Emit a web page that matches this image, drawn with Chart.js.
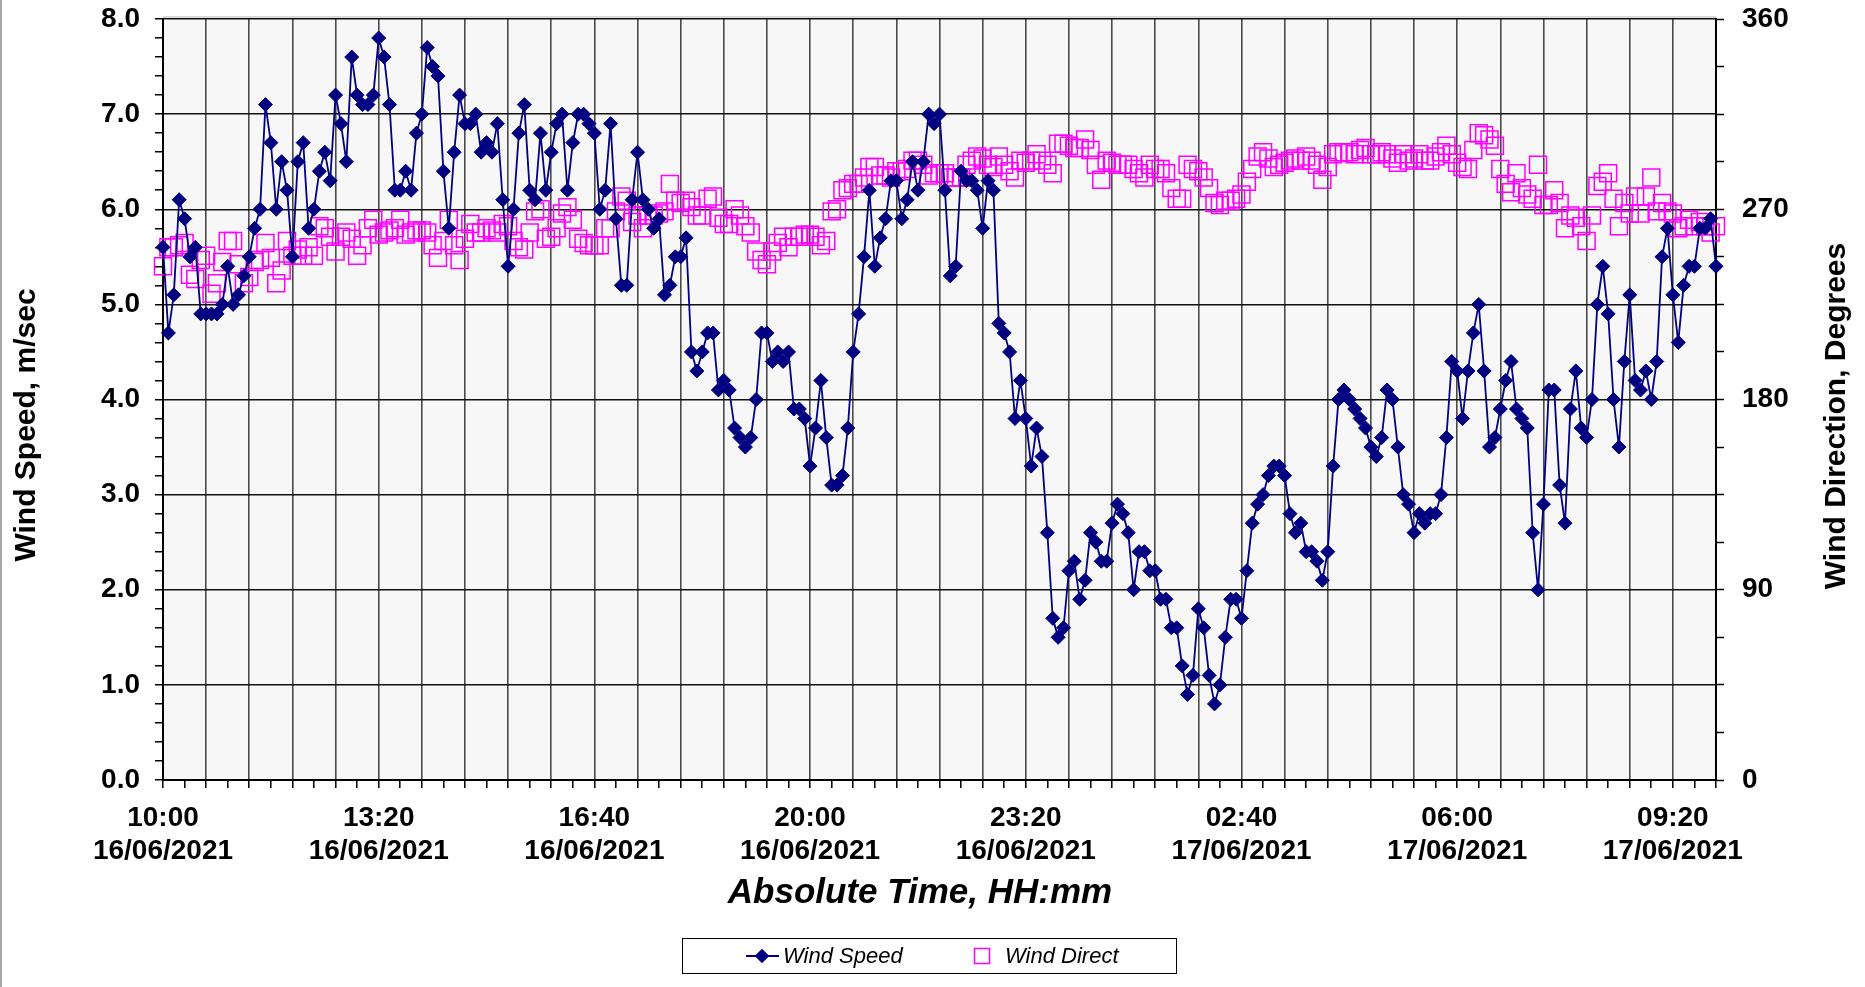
<!DOCTYPE html>
<html>
<head>
<meta charset="utf-8">
<title>Wind Speed / Wind Direction</title>
<script src="https://cdn.jsdelivr.net/npm/chart.js@4.4.1/dist/chart.umd.min.js"></script>
<style>
  html, body { margin: 0; padding: 0; background: #fff; }
  canvas { display: block; }
</style>
</head>
<body>
<canvas id="windChart" width="1865" height="987"></canvas>
<script>
// ========================================
// DATA (5 minute samples, 16/06/2021 10:00 -> 17/06/2021 10:00)
// ========================================
const startMinutes = 10 * 60;
const stepMinutes = 5;
const startDay = 16;

// Wind Speed, m/sec
const windSpeed = [
  5.6, 4.7, 5.1, 6.1, 5.9, 5.5, 5.6, 4.9, 4.9, 4.9,
  4.9, 5.0, 5.4, 5.0, 5.1, 5.3, 5.5, 5.8, 6.0, 7.1,
  6.7, 6.0, 6.5, 6.2, 5.5, 6.5, 6.7, 5.8, 6.0, 6.4,
  6.6, 6.3, 7.2, 6.9, 6.5, 7.6, 7.2, 7.1, 7.1, 7.2,
  7.8, 7.6, 7.1, 6.2, 6.2, 6.4, 6.2, 6.8, 7.0, 7.7,
  7.5, 7.4, 6.4, 5.8, 6.6, 7.2, 6.9, 6.9, 7.0, 6.6,
  6.7, 6.6, 6.9, 6.1, 5.4, 6.0, 6.8, 7.1, 6.2, 6.1,
  6.8, 6.2, 6.6, 6.9, 7.0, 6.2, 6.7, 7.0, 7.0, 6.9,
  6.8, 6.0, 6.2, 6.9, 5.9, 5.2, 5.2, 6.1, 6.6, 6.1,
  6.0, 5.8, 5.9, 5.1, 5.2, 5.5, 5.5, 5.7, 4.5, 4.3,
  4.5, 4.7, 4.7, 4.1, 4.2, 4.1, 3.7, 3.6, 3.5, 3.6,
  4.0, 4.7, 4.7, 4.4, 4.5, 4.4, 4.5, 3.9, 3.9, 3.8,
  3.3, 3.7, 4.2, 3.6, 3.1, 3.1, 3.2, 3.7, 4.5, 4.9,
  5.5, 6.2, 5.4, 5.7, 5.9, 6.3, 6.3, 5.9, 6.1, 6.5,
  6.2, 6.5, 7.0, 6.9, 7.0, 6.2, 5.3, 5.4, 6.4, 6.3,
  6.3, 6.2, 5.8, 6.3, 6.2, 4.8, 4.7, 4.5, 3.8, 4.2,
  3.8, 3.3, 3.7, 3.4, 2.6, 1.7, 1.5, 1.6, 2.2, 2.3,
  1.9, 2.1, 2.6, 2.5, 2.3, 2.3, 2.7, 2.9, 2.8, 2.6,
  2.0, 2.4, 2.4, 2.2, 2.2, 1.9, 1.9, 1.6, 1.6, 1.2,
  0.9, 1.1, 1.8, 1.6, 1.1, 0.8, 1.0, 1.5, 1.9, 1.9,
  1.7, 2.2, 2.7, 2.9, 3.0, 3.2, 3.3, 3.3, 3.2, 2.8,
  2.6, 2.7, 2.4, 2.4, 2.3, 2.1, 2.4, 3.3, 4.0, 4.1,
  4.0, 3.9, 3.8, 3.7, 3.5, 3.4, 3.6, 4.1, 4.0, 3.5,
  3.0, 2.9, 2.6, 2.8, 2.7, 2.8, 2.8, 3.0, 3.6, 4.4,
  4.3, 3.8, 4.3, 4.7, 5.0, 4.3, 3.5, 3.6, 3.9, 4.2,
  4.4, 3.9, 3.8, 3.7, 2.6, 2.0, 2.9, 4.1, 4.1, 3.1,
  2.7, 3.9, 4.3, 3.7, 3.6, 4.0, 5.0, 5.4, 4.9, 4.0,
  3.5, 4.4, 5.1, 4.2, 4.1, 4.3, 4.0, 4.4, 5.5, 5.8,
  5.1, 4.6, 5.2, 5.4, 5.4, 5.8, 5.8, 5.9, 5.4
];

// Wind Direction, degrees
const windDirection = [
  243, 252, 252, 253, 254, 239, 237, 246, 248, 230,
  235, 245, 255, 255, 244, 235, 238, 245, 246, 254,
  247, 235, 241, 255, 248, 251, 248, 252, 248, 262,
  261, 257, 250, 257, 259, 256, 248, 253, 261, 265,
  258, 259, 260, 261, 265, 258, 259, 260, 260, 259,
  253, 247, 255, 265, 253, 246, 256, 263, 259, 259,
  261, 260, 259, 263, 262, 255, 252, 251, 259, 269,
  270, 256, 257, 261, 268, 271, 265, 256, 254, 253,
  253, 253, 261, 261, 269, 276, 274, 264, 267, 261,
  267, 267, 268, 269, 282, 274, 273, 274, 271, 267,
  267, 275, 276, 266, 263, 263, 270, 267, 262, 259,
  250, 246, 244, 250, 254, 257, 252, 257, 257, 258,
  258, 257, 253, 255, 269, 270, 279, 280, 282, 282,
  285, 290, 290, 286, 286, 285, 288, 288, 289, 293,
  293, 291, 286, 287, 287, 287, 285, 285, 285, 291,
  293, 295, 294, 291, 290, 295, 291, 288, 285, 293,
  292, 293, 296, 293, 291, 287, 301, 301, 300, 299,
  299, 303, 298, 291, 284, 293, 292, 291, 291, 291,
  289, 287, 285, 291, 289, 289, 287, 280, 275, 275,
  291, 289, 288, 285, 280, 273, 272, 274, 274, 275,
  277, 283, 289, 295, 297, 294, 290, 291, 292, 293,
  294, 293, 295, 293, 291, 284, 290, 296, 297, 297,
  297, 296, 298, 299, 296, 296, 297, 296, 294, 292,
  296, 293, 294, 296, 293, 293, 295, 297, 300, 296,
  292, 290, 289, 298, 306, 305, 303, 300, 289, 282,
  278, 287, 280, 277, 275, 291, 272, 272, 279, 273,
  261, 267, 266, 262, 255, 267, 281, 283, 287, 275,
  262, 273, 268, 276, 268, 276, 285, 269, 273, 269,
  268, 261, 262, 265, 262, 264, 262, 259, 262
];

// time categories (HH:mm and dd/mm/yyyy) for each sample
const pad2 = (n) => String(n).padStart(2, '0');
const timeLabels = windSpeed.map((_, i) => {
  const m = (startMinutes + i * stepMinutes) % 1440;
  return pad2(Math.floor(m / 60)) + ':' + pad2(m % 60);
});
const dateLabels = windSpeed.map((_, i) => {
  const d = startDay + Math.floor((startMinutes + i * stepMinutes) / 1440);
  return pad2(d) + '/06/2021';
});

const xLabelEvery = 40;   // a label every 200 min
const xGridEvery = 8;     // a grid line every 40 min
const xTickEvery = 4;     // a tick mark every 20 min

const speedTicks = { min: 0, max: 8, step: 0.2 };
const directionTicks = { min: 0, max: 360, step: 22.5 };

const titles = {
  x: 'Absolute Time, HH:mm',
  y: 'Wind Speed, m/sec',
  y1: 'Wind Direction, Degrees'
};

// ========================================
// STYLE
// ========================================
const FONT = "'Liberation Sans', Arial, Helvetica, sans-serif";
const NAVY = '#000080';
const MAGENTA = '#ff00ff';
const CLEAR = 'rgba(0,0,0,0)';

const isWhole = (v, unit) => Math.abs(v / unit - Math.round(v / unit)) < 1e-6;

// vertical axes: fixed width, no extra label overflow padding
const fitVertical = (width) => (scale) => {
  scale.width = width;
  scale.paddingTop = 0;
  scale.paddingBottom = 0;
};

// ========================================
// PLUGIN: background, titles, legend
// ========================================
const decorPlugin = {
  id: 'decor',
  beforeDraw(chart) {
    const { ctx, chartArea: a } = chart;
    ctx.save();
    ctx.fillStyle = '#fff';
    ctx.fillRect(0, 0, chart.width, chart.height);
    ctx.fillStyle = '#f7f7f7';
    ctx.fillRect(a.left, a.top, a.right - a.left, a.bottom - a.top);
    ctx.fillStyle = '#d9d9d9';
    ctx.fillRect(a.left, a.top - 3, a.right - a.left, 2);
    ctx.fillStyle = '#a8a8a8';
    ctx.fillRect(0, 0, 2, chart.height);
    ctx.restore();
  },
  afterDraw(chart) {
    const { ctx } = chart;
    ctx.save();
    ctx.fillStyle = '#000';
    ctx.textAlign = 'center';
    ctx.textBaseline = 'middle';

    // axis titles
    ctx.font = 'bold italic 35px ' + FONT;
    ctx.fillText(titles.x, 920, 893);

    ctx.font = 'bold 30px ' + FONT;
    ctx.save();
    ctx.translate(27, 425);
    ctx.rotate(-Math.PI / 2);
    ctx.fillText(titles.y, 0, 0);
    ctx.restore();

    ctx.save();
    ctx.translate(1837, 416);
    ctx.rotate(-Math.PI / 2);
    ctx.fillText(titles.y1, 0, 0);
    ctx.restore();

    // legend
    const ly = 956;
    ctx.strokeStyle = '#000';
    ctx.lineWidth = 1;
    ctx.strokeRect(682.5, 938.5, 494, 35);

    ctx.strokeStyle = NAVY;
    ctx.lineWidth = 1.8;
    ctx.beginPath();
    ctx.moveTo(746, ly);
    ctx.lineTo(779, ly);
    ctx.stroke();
    Chart.helpers.drawPoint(ctx, {
      pointStyle: 'rectRot', radius: 6, borderWidth: 1
    }, 762, ly);
    ctx.fillStyle = NAVY;
    ctx.fill();

    ctx.strokeStyle = MAGENTA;
    ctx.lineWidth = 1.5;
    ctx.strokeRect(974.5, ly - 7.5, 15, 15);

    ctx.fillStyle = '#000';
    ctx.textAlign = 'left';
    ctx.font = 'italic 22px ' + FONT;
    ctx.fillText(chart.data.datasets[0].label, 783, ly + 1);
    ctx.fillText(chart.data.datasets[1].label, 1005, ly + 1);
    ctx.restore();
  }
};

// ========================================
// CHART
// ========================================
const tickFont = { family: FONT, size: 28, weight: 'bold', lineHeight: 1.2 };

new Chart(document.getElementById('windChart'), {
  type: 'line',
  data: {
    labels: timeLabels,
    datasets: [
      {
        label: 'Wind Speed',
        data: windSpeed,
        yAxisID: 'y',
        borderColor: NAVY,
        borderWidth: 1.8,
        pointStyle: 'rectRot',
        pointRadius: 7,
        pointBackgroundColor: NAVY,
        pointBorderColor: NAVY,
        pointBorderWidth: 1,
        tension: 0,
        clip: false
      },
      {
        label: 'Wind Direct',
        data: windDirection,
        yAxisID: 'y1',
        showLine: false,
        pointStyle: 'rect',
        pointRadius: 12,
        pointBackgroundColor: CLEAR,
        pointBorderColor: MAGENTA,
        pointBorderWidth: 1.5,
        clip: false
      }
    ]
  },
  options: {
    responsive: false,
    animation: false,
    devicePixelRatio: 1,
    layout: { padding: { top: 19, left: 0, right: 0, bottom: 0 } },
    plugins: {
      legend: { display: false },
      tooltip: { enabled: false }
    },
    scales: {
      x: {
        type: 'category',
        offset: false,
        afterFit(scale) { scale.height = 207; },
        border: { color: '#000', width: 2 },
        grid: {
          color: (c) => c.index % xGridEvery === 0 ? '#4a4a4a' : CLEAR,
          lineWidth: 1.6,
          tickColor: (c) => c.index % xTickEvery === 0 ? '#000' : CLEAR,
          tickLength: 8,
          tickWidth: 1.5
        },
        ticks: {
          autoSkip: false,
          maxRotation: 0,
          minRotation: 0,
          padding: 13,
          color: '#000',
          font: tickFont,
          callback: (value, index) =>
            index % xLabelEvery === 0 ? [timeLabels[index], dateLabels[index]] : ''
        }
      },
      y: {
        position: 'left',
        min: speedTicks.min,
        max: speedTicks.max,
        afterFit: fitVertical(163),
        border: { color: '#000', width: 2 },
        grid: {
          color: (c) => isWhole(c.tick.value, 1) ? '#111' : CLEAR,
          lineWidth: 1.5,
          tickColor: '#000',
          tickLength: 8,
          tickWidth: 1.5
        },
        ticks: {
          stepSize: speedTicks.step,
          autoSkip: false,
          padding: 15,
          color: '#000',
          font: tickFont,
          callback: (v) => isWhole(v, 1) ? v.toFixed(1) : ''
        }
      },
      y1: {
        position: 'right',
        min: directionTicks.min,
        max: directionTicks.max,
        afterFit: fitVertical(149),
        border: { color: '#000', width: 2 },
        grid: {
          drawOnChartArea: false,
          tickColor: '#000',
          tickLength: 8,
          tickWidth: 1.5
        },
        ticks: {
          stepSize: directionTicks.step,
          autoSkip: false,
          padding: 18,
          color: '#000',
          font: tickFont,
          callback: (v) => isWhole(v, 90) ? String(v) : ''
        }
      }
    }
  },
  plugins: [decorPlugin]
});
</script>
</body>
</html>
